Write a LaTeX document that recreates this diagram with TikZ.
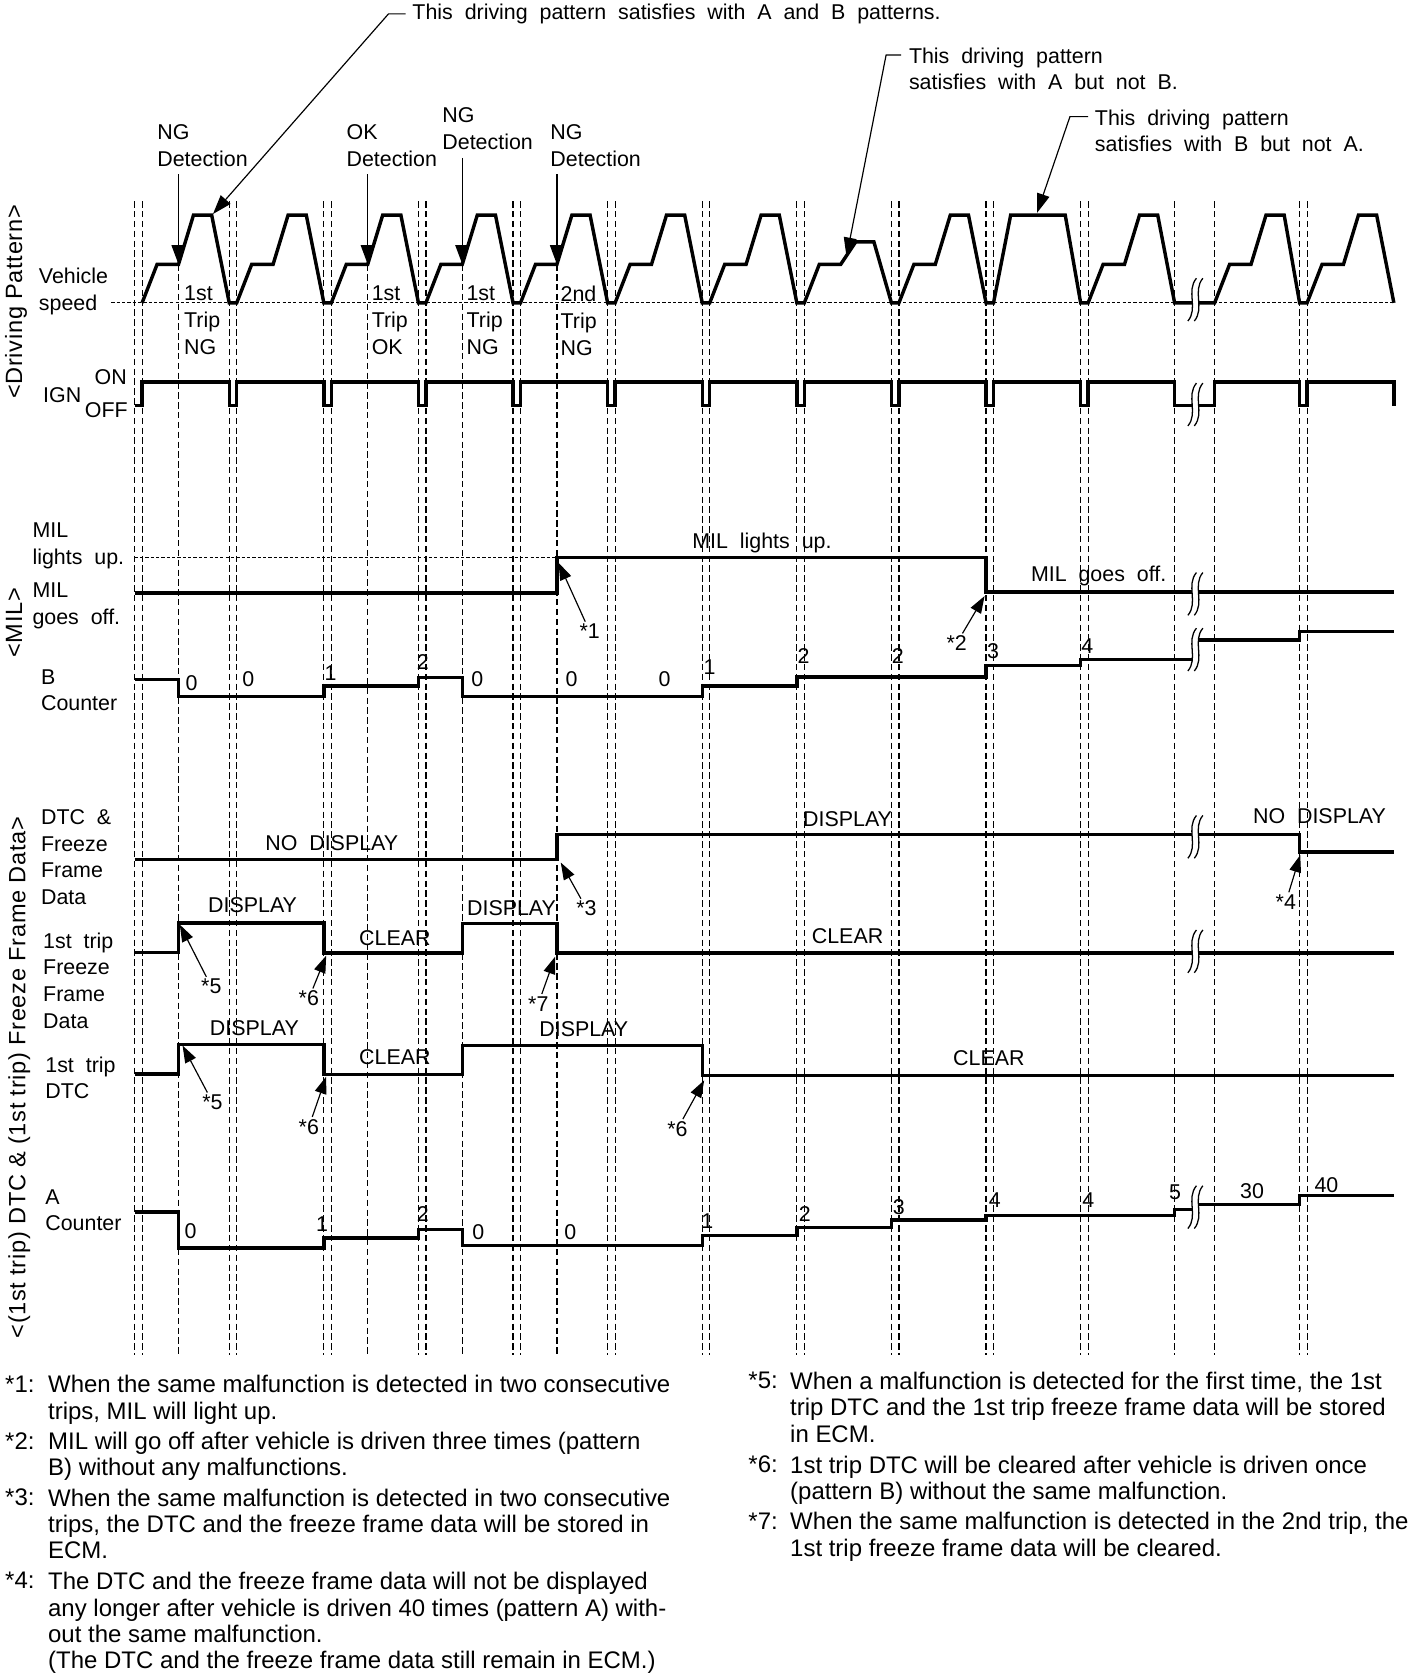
\documentclass[tikz,border=0pt]{standalone}
\usepackage{fontspec}
\setmainfont{Liberation Sans}
\newfontfamily\lblfont[WordSpace=2]{Liberation Sans}
\usetikzlibrary{arrows.meta, positioning, calc}
\newcommand\brkmark[2]{%
  \fill[white] (#1+1,#2-20) .. controls (#1-9,#2-8) and (#1+3,#2+8) .. (#1-7,#2+20)
    -- (#1-1,#2+20) .. controls (#1+9,#2+8) and (#1-3,#2-8) .. (#1+7,#2-20) -- cycle;
  \foreach \o in {-3,3}
    {\draw[line width=0.6pt] (#1+\o+4,#2-20) .. controls (#1+\o-6,#2-8) and (#1+\o+6,#2+8) .. (#1+\o-4,#2+20);}}

\begin{document}
\begin{tikzpicture}[
    x=0.5pt, y=-0.5pt,
    every node/.style={font=\lblfont\fontsize{10}{12.5}\selectfont, inner sep=0pt},
    lbl/.style={anchor=north west, align=left},
    sig/.style={line width=1.6pt},
    guideline/.style={line width=0.55pt, dash pattern=on 3pt off 1.6pt},
    zeroline/.style={line width=0.55pt, dash pattern=on 1.5pt off 1pt},
    leader/.style={line width=0.55pt, -{Triangle[length=9pt,width=6pt]}},
    detarrow/.style={line width=0.7pt, -{Triangle[length=9pt,width=6.5pt]}},
    callout/.style={line width=0.55pt, -{Triangle[length=8pt,width=5.5pt]}, shorten <=1pt},
    fnote/.style={anchor=north west, align=left, font=\rmfamily\fontsize{11.2}{12.25}\selectfont},
    sidelbl/.style={rotate=90, font=\rmfamily\fontsize{11}{13}\selectfont\addfontfeature{LetterSpace=3}}
  ]
  \useasboundingbox (0,0) rectangle (1331,1568);

  % dashed time marks
  \foreach \g in {129.3,217.7,306.1,394.5,482.9,571.3,659.7,748.1,836.5,924.9,1013.3,1217.9}
    {\draw[guideline] (\g-3.5,188) -- (\g-3.5,1266) (\g+3.5,188) -- (\g+3.5,1266);}
  \foreach \d in {166.8,343.6,432,520.4}
    {\draw[guideline] (\d,247) -- (\d,1266);}
  \foreach \d in {1097.6,1135}
    {\draw[guideline] (\d,188) -- (\d,1266);}

  % vehicle speed
  \draw[zeroline] (104,283) -- (1302.5,283);
  \draw[sig] (132.8,283)
    foreach \s/\t in {132.8/201,221.2/201,309.6/201,398/201,486.4/201,574.8/201,663.2/201,751.6/226,840/201}
      { -- (\s,283) -- (\s+14,247) -- (\s+34,247) -- (\s+48,\t) -- (\s+65,\t) -- (\s+81.4,283) }
    -- (928.4,283) -- (944.4,201) -- (995.4,201) -- (1009.8,283)
    foreach \s/\e in {1016.8/1097.6,1135/1214.4,1221.4/1302.5}
      { -- (\s,283) -- (\s+14,247) -- (\s+34,247) -- (\s+48,201) -- (\s+65,201) -- (\e,283) };

  % IGN
  \draw[sig] (125.8,379) -- (132.8,379) -- (132.8,357)
    foreach \g in {217.7,306.1,394.5,482.9,571.3,659.7,748.1,836.5,924.9,1013.3}
      { -- (\g-3.5,357) -- (\g-3.5,379) -- (\g+3.5,379) -- (\g+3.5,357) }
    -- (1097.6,357) -- (1097.6,379) -- (1135,379) -- (1135,357)
    -- (1214.4,357) -- (1214.4,379) -- (1221.4,379) -- (1221.4,357)
    -- (1302.5,357) -- (1302.5,379);

  % MIL
  \draw[zeroline] (125.8,521) -- (520.4,521);
  \draw[sig] (125.8,554) -- (520.4,554) -- (520.4,521) -- (921.4,521) -- (921.4,553) -- (1303,553);

  % B counter
  \draw[sig] (125.8,635) -- (166.8,635) -- (166.8,651) -- (302.6,651) -- (302.6,641) -- (390.9,641)
    -- (390.9,633) -- (432,633) -- (432,651) -- (656.2,651) -- (656.2,641) -- (744.6,641)
    -- (744.6,632.5) -- (921.4,632.5) -- (921.4,622) -- (1009.8,622) -- (1009.8,616) -- (1117,616);
  \draw[sig] (1117,598) -- (1214.4,598) -- (1214.4,590) -- (1303,590);

  % DTC & freeze frame data
  \draw[sig] (125.8,803) -- (520.4,803) -- (520.4,780) -- (1214.4,780) -- (1214.4,796) -- (1303,796);
  \draw[sig] (125.8,890) -- (166.8,890) -- (166.8,862.5) -- (302.6,862.5) -- (302.6,890.5)
    -- (432,890.5) -- (432,863) -- (520.4,863) -- (520.4,890.5) -- (1303,890.5);
  \draw[sig] (125.8,1003.5) -- (166.8,1003.5) -- (166.8,976) -- (302.6,976) -- (302.6,1004)
    -- (432,1004) -- (432,977) -- (656.2,977) -- (656.2,1005) -- (1303,1005);

  % A counter
  \draw[sig] (125.8,1132.6) -- (166.8,1132.6) -- (166.8,1166) -- (302.6,1166) -- (302.6,1157)
    -- (390.9,1157) -- (390.9,1149) -- (432,1149) -- (432,1164) -- (656.2,1164) -- (656.2,1154.4)
    -- (744.6,1154.4) -- (744.6,1147) -- (833,1147) -- (833,1140) -- (921.4,1140) -- (921.4,1135.7)
    -- (1097.6,1135.7) -- (1097.6,1130) -- (1117,1130);
  \draw[sig] (1117,1125.5) -- (1214.4,1125.5) -- (1214.4,1117) -- (1303,1117);

  % breaks
  \foreach \y in {280,378,555,607,782,889,1128}
    {\brkmark{1117}{\y}}

  % side titles
  \node[sidelbl] (dp) at (15,282) {<Driving Pattern>};
  \node[sidelbl] (ml) at (13,582) {<MIL>};
  \node[sidelbl] (dd) at (18,1007) {<(1st trip) DTC \& (1st trip) Freeze Frame Data>};

  % row labels
  \node[lbl] (vs) at (36,250) {Vehicle\\speed};
  \node[anchor=west] (ign) at (40,369) {IGN};
  \node[anchor=west] (on) at (88,352) {ON};
  \node[anchor=west] (off) at (79,383) {OFF};
  \node[lbl] (milup) at (30,488) {MIL\\lights up.};
  \node[lbl] (miloff) at (30,544) {MIL\\goes off.};
  \node[lbl] (bc) at (38,625) {B\\Counter};
  \node[lbl] (dtcffd) at (38,756) {DTC \&\\Freeze\\Frame\\Data};
  \node[lbl] (ffd) at (40,871) {1st trip\\Freeze\\Frame\\Data};
  \node[lbl] (dtc) at (42,987) {1st trip\\DTC};
  \node[lbl] (ac) at (42,1111) {A\\Counter};

  % detections
  \node[lbl] (ng1) at (146.6,116) {NG\\Detection};
  \node[lbl] (ok1) at (323.5,116) {OK\\Detection};
  \node[lbl] (ng2) at (413,100.5) {NG\\Detection};
  \node[lbl] (ng3) at (514,116) {NG\\Detection};
  \coordinate (d1) at (166.8,247);
  \coordinate (d2) at (343.6,247);
  \coordinate (d3) at (432,247);
  \coordinate (d4) at (520.4,247);
  \draw[detarrow] ([yshift=-3.5pt]d1 |- ng1.south) -- (d1);
  \draw[detarrow] ([yshift=-3.5pt]d2 |- ok1.south) -- (d2);
  \draw[detarrow] ([yshift=-3.5pt]d3 |- ng2.south) -- (d3);
  \draw[detarrow] ([yshift=-3.5pt]d4 |- ng3.south) -- (d4);
  \node[lbl] (tr1) at (171.7,267) {1st\\Trip\\NG};
  \node[lbl] (tr2) at (347,267) {1st\\Trip\\OK};
  \node[lbl] (tr3) at (435.6,267) {1st\\Trip\\NG};
  \node[lbl] (tr4) at (523.5,267) {2nd\\Trip\\NG};

  % driving pattern notes
  \node[anchor=west] (ab) at (385,13) {This driving pattern satisfies with A and B patterns.};
  \node[lbl] (anb) at (849,44) {This driving pattern\\satisfies with A but not B.};
  \node[lbl] (bna) at (1022.8,102) {This driving pattern\\satisfies with B but not A.};
  \coordinate (tAB) at (199,200);
  \coordinate (tA) at (791,240);
  \coordinate (tB) at (969,199);
  \draw[leader, shorten <=3pt] (ab.west) -- ++(-22,0) -- (tAB);
  \draw[leader] ([xshift=-3.5pt,yshift=-3.7pt]anb.north west) -- ++(-14,0) -- (tA);
  \draw[leader] ([xshift=-3pt,yshift=-3.5pt]bna.north west) -- ++(-17,0) -- (tB);

  % state labels
  \node (milon) at (712,507) {MIL lights up.};
  \node[anchor=west] (miloffl) at (963,538) {MIL goes off.};
  \node (nd1) at (310,788) {NO DISPLAY};
  \node (dsp1) at (792,765) {DISPLAY};
  \node (nd2) at (1233,763) {NO DISPLAY};
  \node (fd1) at (236,846) {DISPLAY};
  \node (fc1) at (369,877) {CLEAR};
  \node (fd2) at (478,849) {DISPLAY};
  \node (fc2) at (792,875) {CLEAR};
  \node (td1) at (237.7,961) {DISPLAY};
  \node (tc1) at (369,988) {CLEAR};
  \node (td2) at (545.5,962) {DISPLAY};
  \node (tc2) at (924,989) {CLEAR};

  % counter values
  \foreach \x/\y/\v [count=\i] in {179/638/0,232/635/0,309/629/1,395/619/2,446/635/0,534/635/0,
      621/635/0,663/623/1,751/613/2,839/613/2,928/608/3,1016/604/4}
    {\node (b\i) at (\x,\y) {\v};}
  \foreach \x/\y/\v [count=\i] in {178/1150/0,301/1144/1,395/1134/2,447/1151/0,533/1151/0,
      661/1141/1,752/1134/2,840/1128/3,929.6/1121/4,1017/1121/4,1098/1114/5,1170/1113/30,1239.5/1107/40}
    {\node (a\i) at (\x,\y) {\v};}

  % callouts
  \foreach \n/\lx/\ly/\tx/\ty [count=\i] in {*1/551/590/522/526, *2/894/601/920/557,
      *3/548/849/524/806, *4/1201.5/843/1215/799, *5/197.5/922/168/864, *6/288.6/933/304.8/893,
      *7/503/938/518.7/894, *5/198.6/1030/170.6/977, *6/288.6/1053/304.8/1006, *6/633/1055/658/1009.5}
    {\node (c\i) at (\lx,\ly) {\n};
     \coordinate (ct\i) at (\tx,\ty);
     \draw[callout] (c\i) -- (ct\i);}

  % footnotes
  \node[fnote] (k1) at (4.5,1285) {*1:};
  \node[fnote] (f1) at (44.6,1285) {When the same malfunction is detected in two consecutive\\trips, MIL will light up.};
  \node[fnote] (k2) at (4.5,1338) {*2:};
  \node[fnote] (f2) at (44.6,1338) {MIL will go off after vehicle is driven three times (pattern\\B) without any malfunctions.};
  \node[fnote] (k3) at (4.5,1391) {*3:};
  \node[fnote] (f3) at (44.6,1391) {When the same malfunction is detected in two consecutive\\trips, the DTC and the freeze frame data will be stored in\\ECM.};
  \node[fnote] (k4) at (4.5,1469) {*4:};
  \node[fnote] (f4) at (44.6,1469) {The DTC and the freeze frame data will not be displayed\\any longer after vehicle is driven 40 times (pattern A) with-\\out the same malfunction.\\(The DTC and the freeze frame data still remain in ECM.)};
  \node[fnote] (k5) at (699,1282) {*5:};
  \node[fnote] (f5) at (738,1282) {When a malfunction is detected for the first time, the 1st\\trip DTC and the 1st trip freeze frame data will be stored\\in ECM.};
  \node[fnote] (k6) at (699,1360) {*6:};
  \node[fnote] (f6) at (738,1360) {1st trip DTC will be cleared after vehicle is driven once\\(pattern B) without the same malfunction.};
  \node[fnote] (k7) at (699,1413) {*7:};
  \node[fnote] (f7) at (738,1413) {When the same malfunction is detected in the 2nd trip, the\\1st trip freeze frame data will be cleared.};
\end{tikzpicture}
\end{document}
